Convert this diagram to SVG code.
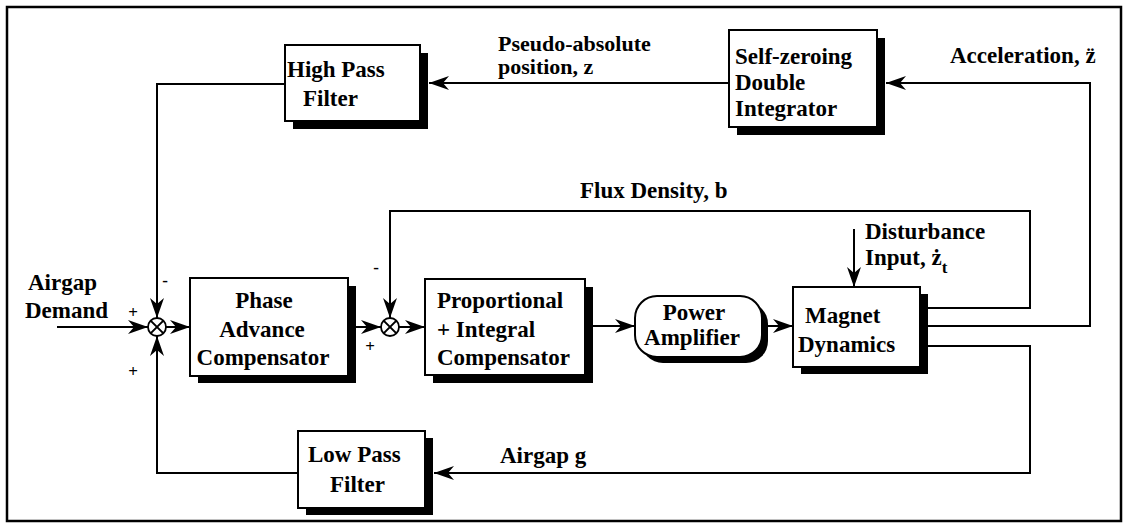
<svg xmlns="http://www.w3.org/2000/svg" width="1124" height="523" viewBox="0 0 1124 523">
<style>
  .box { fill: #fff; stroke: #000; stroke-width: 2; }
  .shadow { fill: #000; }
  .wire { fill: none; stroke: #000; stroke-width: 2; }
  .sum { fill: #fff; stroke: #000; stroke-width: 1.8; }
</style>
<defs>
  <marker id="arr" viewBox="0 0 20 14" refX="20" refY="7" markerWidth="20" markerHeight="14" markerUnits="userSpaceOnUse" orient="auto">
    <path d="M0,0 L20,7 L0,14 L6,7 Z" fill="#000"/>
  </marker>
</defs>
<rect x="0" y="0" width="1124" height="523" fill="#fff"/>
<rect x="7" y="7" width="1114" height="514" fill="none" stroke="#000" stroke-width="2.5"/>

<g id="connectors">
  <path class="wire" d="M57,327 H148" marker-end="url(#arr)"/>
  <path class="wire" d="M166,327 H190" marker-end="url(#arr)"/>
  <path class="wire" d="M348,327 H381" marker-end="url(#arr)"/>
  <path class="wire" d="M399,327 H425" marker-end="url(#arr)"/>
  <path class="wire" d="M585,326 H635" marker-end="url(#arr)"/>
  <path class="wire" d="M762,326 H793" marker-end="url(#arr)"/>
  <path class="wire" d="M920,308 H1030 V211 H390 V318" marker-end="url(#arr)"/>
  <path class="wire" d="M920,326 H1090 V83 H886" marker-end="url(#arr)"/>
  <path class="wire" d="M729,83 H429" marker-end="url(#arr)"/>
  <path class="wire" d="M285,84 H157 V318" marker-end="url(#arr)"/>
  <path class="wire" d="M920,346 H1030 V473 H434" marker-end="url(#arr)"/>
  <path class="wire" d="M298,473 H157 V336" marker-end="url(#arr)"/>
  <path class="wire" d="M854,229 V287" marker-end="url(#arr)"/>
</g>

<g id="sum1">
  <circle class="sum" cx="157" cy="327" r="9"/>
  <path class="wire" stroke-width="1.5" d="M150.6,320.6 L163.4,333.4 M163.4,320.6 L150.6,333.4"/>
</g>
<g id="sum2">
  <circle class="sum" cx="390" cy="327" r="9"/>
  <path class="wire" stroke-width="1.5" d="M383.6,320.6 L396.4,333.4 M396.4,320.6 L383.6,333.4"/>
</g>

<g id="high-pass-filter">
  <rect class="shadow" x="293" y="53" width="135" height="76"/>
  <rect class="box" x="285" y="45" width="135" height="76"/>
  <text font-family="Liberation Serif, Times New Roman, serif" font-weight="bold" font-size="23" x="287" y="77">High Pass</text>
  <text font-family="Liberation Serif, Times New Roman, serif" font-weight="bold" font-size="23" x="303" y="106">Filter</text>
</g>

<g id="self-zeroing-double-integrator">
  <rect class="shadow" x="737" y="38" width="148" height="97"/>
  <rect class="box" x="729" y="30" width="148" height="97"/>
  <text font-family="Liberation Serif, Times New Roman, serif" font-weight="bold" font-size="23" x="735" y="64">Self-zeroing</text>
  <text font-family="Liberation Serif, Times New Roman, serif" font-weight="bold" font-size="23" x="735" y="90">Double</text>
  <text font-family="Liberation Serif, Times New Roman, serif" font-weight="bold" font-size="23" x="735" y="116">Integrator</text>
</g>

<g id="phase-advance-compensator">
  <rect class="shadow" x="198" y="286" width="158" height="97"/>
  <rect class="box" x="190" y="278" width="158" height="98"/>
  <text font-family="Liberation Serif, Times New Roman, serif" font-weight="bold" font-size="23" x="264" y="308" text-anchor="middle">Phase</text>
  <text font-family="Liberation Serif, Times New Roman, serif" font-weight="bold" font-size="23" x="262" y="337" text-anchor="middle">Advance</text>
  <text font-family="Liberation Serif, Times New Roman, serif" font-weight="bold" font-size="23" x="263" y="365" text-anchor="middle">Compensator</text>
</g>

<g id="pi-compensator">
  <rect class="shadow" x="433" y="287" width="160" height="96"/>
  <rect class="box" x="425" y="279" width="160" height="96"/>
  <text font-family="Liberation Serif, Times New Roman, serif" font-weight="bold" font-size="23" x="437" y="308">Proportional</text>
  <text font-family="Liberation Serif, Times New Roman, serif" font-weight="bold" font-size="23" x="437" y="337">+ Integral</text>
  <text font-family="Liberation Serif, Times New Roman, serif" font-weight="bold" font-size="23" x="437" y="365">Compensator</text>
</g>

<g id="power-amplifier">
  <rect class="shadow" x="641" y="302" width="127" height="61" rx="22" ry="22"/>
  <rect class="box" x="635" y="296" width="127" height="61" rx="22" ry="22"/>
  <text font-family="Liberation Serif, Times New Roman, serif" font-weight="bold" font-size="23" x="694" y="320" text-anchor="middle">Power</text>
  <text font-family="Liberation Serif, Times New Roman, serif" font-weight="bold" font-size="23" x="692" y="345" text-anchor="middle">Amplifier</text>
</g>

<g id="magnet-dynamics">
  <rect class="shadow" x="801" y="294" width="127" height="80"/>
  <rect class="box" x="793" y="287" width="127" height="80"/>
  <text font-family="Liberation Serif, Times New Roman, serif" font-weight="bold" font-size="23" x="805" y="323">Magnet</text>
  <text font-family="Liberation Serif, Times New Roman, serif" font-weight="bold" font-size="23" x="798" y="352">Dynamics</text>
</g>

<g id="low-pass-filter">
  <rect class="shadow" x="306" y="438" width="127" height="77"/>
  <rect class="box" x="298" y="431" width="127" height="77"/>
  <text font-family="Liberation Serif, Times New Roman, serif" font-weight="bold" font-size="23" x="308" y="462">Low Pass</text>
  <text font-family="Liberation Serif, Times New Roman, serif" font-weight="bold" font-size="23" x="330" y="492">Filter</text>
</g>

<g id="labels">
  <text font-family="Liberation Serif, Times New Roman, serif" font-weight="bold" font-size="23" x="28" y="290">Airgap</text>
  <text font-family="Liberation Serif, Times New Roman, serif" font-weight="bold" font-size="23" x="25" y="318">Demand</text>
  <text font-family="Liberation Serif, Times New Roman, serif" font-weight="bold" font-size="22" x="498" y="51">Pseudo-absolute</text>
  <text font-family="Liberation Serif, Times New Roman, serif" font-weight="bold" font-size="22" x="498" y="74">position, z</text>
  <text font-family="Liberation Serif, Times New Roman, serif" font-weight="bold" font-size="23" x="950" y="63">Acceleration, z̈</text>
  <text font-family="Liberation Serif, Times New Roman, serif" font-weight="bold" font-size="23" x="580" y="198">Flux Density, b</text>
  <text font-family="Liberation Serif, Times New Roman, serif" font-weight="bold" font-size="23" x="865" y="239">Disturbance</text>
  <text font-family="Liberation Serif, Times New Roman, serif" font-weight="bold" font-size="23" x="865" y="265">Input, ż<tspan font-size="17" dy="8">t</tspan></text>
  <text font-family="Liberation Serif, Times New Roman, serif" font-weight="bold" font-size="23" x="500" y="463">Airgap g</text>
  <text font-family="Liberation Serif, Times New Roman, serif" font-weight="bold" font-size="17" x="165" y="286" text-anchor="middle">-</text>
  <text font-family="Liberation Serif, Times New Roman, serif" font-weight="bold" font-size="17" x="133" y="318" text-anchor="middle">+</text>
  <text font-family="Liberation Serif, Times New Roman, serif" font-weight="bold" font-size="17" x="133" y="377" text-anchor="middle">+</text>
  <text font-family="Liberation Serif, Times New Roman, serif" font-weight="bold" font-size="17" x="376" y="273" text-anchor="middle">-</text>
  <text font-family="Liberation Serif, Times New Roman, serif" font-weight="bold" font-size="17" x="370" y="352" text-anchor="middle">+</text>
</g>
</svg>
